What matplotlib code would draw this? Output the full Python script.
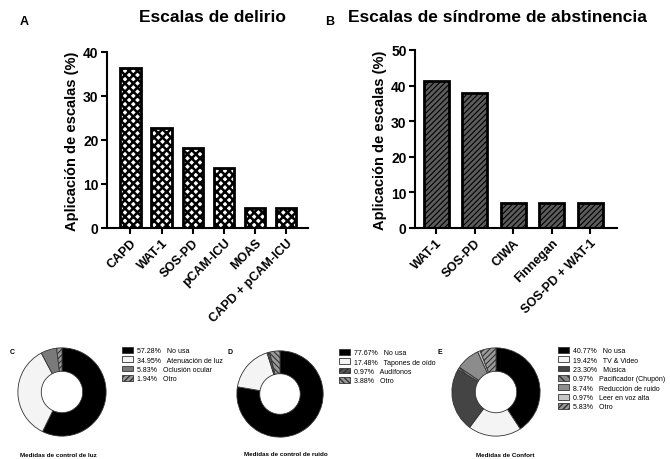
import matplotlib
matplotlib.use("Agg")
import matplotlib.pyplot as plt

plt.rcParams["font.family"] = ["Liberation Sans", "DejaVu Sans"]
plt.rcParams["hatch.linewidth"] = 1.0

W, H = 670, 460

# --- datos ---
delirio_labels = ["CAPD", "WAT-1", "SOS-PD", "pCAM-ICU", "MOAS", "CAPD + pCAM-ICU"]
delirio_vals = [36.4, 22.7, 18.2, 13.6, 4.5, 4.5]

abst_labels = ["WAT-1", "SOS-PD", "CIWA", "Finnegan", "SOS-PD + WAT-1"]
abst_vals = [41.4, 37.9, 6.9, 6.9, 6.9]

luz_labels = ["No usa", "Atenuación de luz", "Oclusión ocular", "Otro"]
luz_vals = [57.28, 34.95, 5.83, 1.94]

ruido_labels = ["No usa", "Tapones de oído", "Audífonos", "Otro"]
ruido_vals = [77.67, 17.48, 0.97, 3.88]

confort_labels = ["No usa", "TV & Video", "Música", "Pacificador (Chupón)",
                  "Reducción de ruido", "Leer en voz alta", "Otro"]
confort_vals = [40.77, 19.42, 23.30, 0.97, 8.74, 0.97, 5.83]


def rect(l, t, r, b):
    return [l / W, 1 - b / H, (r - l) / W, (b - t) / H]


fig = plt.figure(figsize=(6.7, 4.6), dpi=100)


def bar_panel(box, labels, vals, ymax, step, xlim, face, hatch, hlw, title, tx):
    ax = fig.add_axes(rect(*box))
    with plt.rc_context({"hatch.linewidth": hlw}):
        bars = ax.bar(range(len(vals)), vals, width=0.65, color=face,
                      edgecolor="black", linewidth=2, hatch=hatch)
    for b in bars:
        if hasattr(b, "set_hatch_linewidth"):
            b.set_hatch_linewidth(hlw)
    ax.set_xlim(*xlim)
    ax.set_ylim(0, ymax)
    ax.set_yticks(range(0, ymax + 1, step))
    ax.set_xticks(range(len(vals)))
    ax.set_xticklabels(labels, rotation=45, ha="right", rotation_mode="anchor",
                       fontsize=9, fontweight="bold")
    for t in ax.get_yticklabels():
        t.set_fontweight("bold")
        t.set_fontsize(10)
    for s in ["top", "right"]:
        ax.spines[s].set_visible(False)
    for s in ["left", "bottom"]:
        ax.spines[s].set_linewidth(1.5)
    ax.tick_params(width=1.5, length=4, pad=2)
    ax.set_ylabel("Aplicación de escalas (%)", fontsize=10.5, fontweight="bold")
    ax.yaxis.set_label_coords(-0.14, 0.5)
    fig.text(tx / W, 1 - 18 / H, title, ha="center", va="center",
             fontsize=12.5, fontweight="bold")
    return ax


bar_panel((107, 53, 308, 229), delirio_labels, delirio_vals, 40, 10, (-0.75, 5.7),
          "white", "xxxx", 1.8, "Escalas de delirio", 212)
bar_panel((415, 51, 617, 229), abst_labels, abst_vals, 50, 10, (-0.55, 4.7),
          "#5c5c5c", "//////", 0.8, "Escalas de síndrome de abstinencia", 497)

fig.text(20 / W, 1 - 22 / H, "A", fontsize=9, fontweight="bold", va="center")
fig.text(325 / W, 1 - 22 / H, "B", fontsize=9, fontweight="bold", va="center")


def donut(cx, cy, r, vals, labels, colors, hatches, leg_xy, letter, letter_xy,
          caption, cap_xy):
    ax = fig.add_axes(rect(cx - r, cy - r, cx + r, cy + r))
    with plt.rc_context({"hatch.linewidth": 0.8}):
        wedges, _ = ax.pie(vals, colors=colors, startangle=90, counterclock=False,
                           wedgeprops=dict(width=0.53, edgecolor="#333333",
                                           linewidth=0.6))
    for w, h in zip(wedges, hatches):
        if h:
            w.set_hatch(h)
        if hasattr(w, "set_hatch_linewidth"):
            w.set_hatch_linewidth(0.8)
    ax.set_xlim(-1.02, 1.02)
    ax.set_ylim(-1.02, 1.02)
    leg_labels = [f"{v:.2f}%   {n}" for v, n in zip(vals, labels)]
    fig.legend(wedges, leg_labels, loc="upper left",
               bbox_to_anchor=(leg_xy[0] / W, 1 - leg_xy[1] / H),
               frameon=False, fontsize=5, handlelength=1.6, handleheight=0.9,
               labelspacing=0.3, borderpad=0, borderaxespad=0, handletextpad=0.5)
    fig.text(letter_xy[0] / W, 1 - letter_xy[1] / H, letter, fontsize=5,
             fontweight="bold", va="center")
    fig.text(cap_xy[0] / W, 1 - cap_xy[1] / H, caption, fontsize=4.5,
             fontweight="bold", ha="center", va="center")


donut(62, 393, 45, luz_vals, luz_labels,
      ["black", "#f4f4f4", "#7a7a7a", "#9a9a9a"], [None, None, None, "//////"],
      (122, 348), "C", (10, 352), "Medidas de control de luz", (58, 456))
donut(280, 395, 44, ruido_vals, ruido_labels,
      ["black", "#f4f4f4", "#555555", "#9a9a9a"], [None, None, "//////", "\\\\\\\\\\\\"],
      (339, 350), "D", (228, 352), "Medidas de control de ruido", (286, 455))
donut(496, 393, 45, confort_vals, confort_labels,
      ["black", "#f4f4f4", "#444444", "#8a8a8a", "#8c8c8c", "#c8c8c8", "#9a9a9a"],
      [None, None, None, "\\\\\\\\", None, None, "//////"],
      (558, 348), "E", (437, 353), "Medidas de Confort", (505, 456))

fig.savefig("out.png", dpi=100)
